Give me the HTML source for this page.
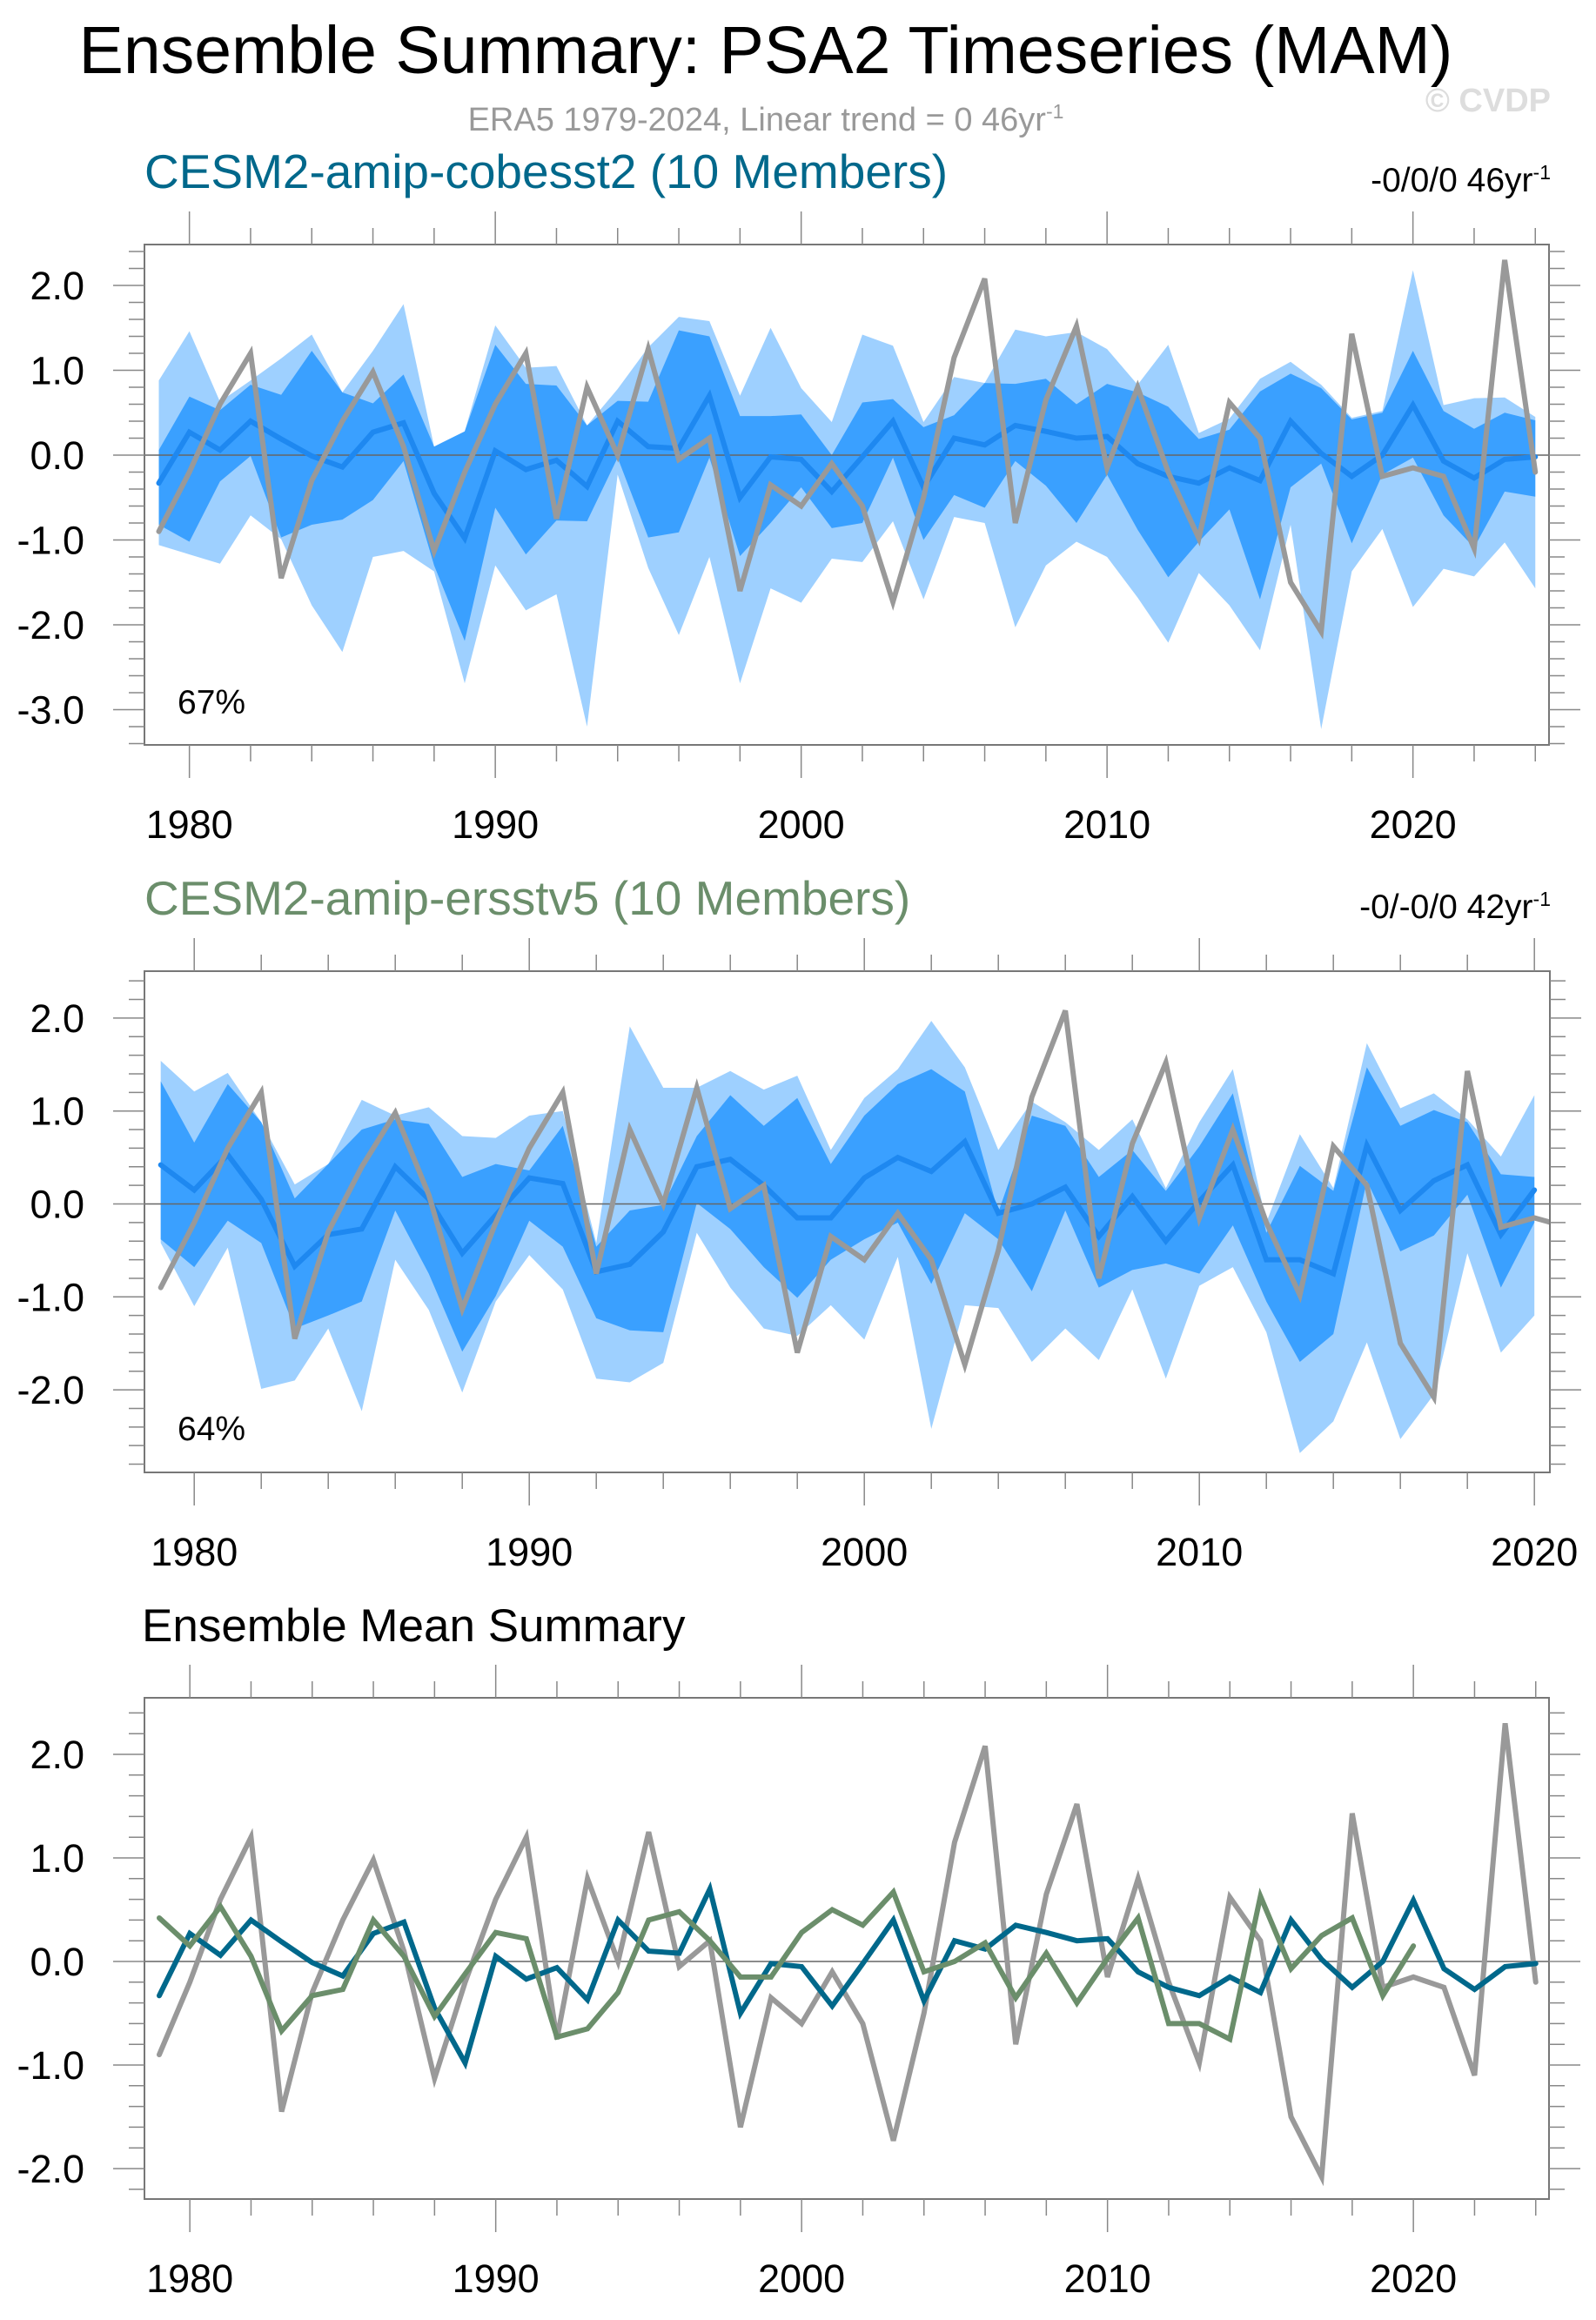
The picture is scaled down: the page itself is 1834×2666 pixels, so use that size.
<!DOCTYPE html>
<html><head><meta charset="utf-8"><style>
html,body{margin:0;padding:0;background:#fff}
svg{display:block;font-family:"Liberation Sans",sans-serif}
</style></head><body>
<svg id="chart" width="1834" height="2666" viewBox="0 0 1834 2666" xmlns="http://www.w3.org/2000/svg">
<text x="880" y="84" font-size="77" text-anchor="middle" fill="#000">Ensemble Summary: PSA2 Timeseries (MAM)</text>
<text x="880" y="150" font-size="38" text-anchor="middle" fill="#999">ERA5 1979-2024, Linear trend = 0 46yr<tspan dy="-14" font-size="23">-1</tspan></text>
<text x="1782" y="128" font-size="38" font-weight="bold" text-anchor="end" fill="#ddd">© CVDP</text>
<text x="166" y="216" font-size="55" fill="#00688B">CESM2-amip-cobesst2 (10 Members)</text>
<text x="1782" y="220" font-size="39" text-anchor="end" fill="#000">-0/0/0 46yr<tspan dy="-14" font-size="23">-1</tspan></text>
<text x="166" y="1051" font-size="55" fill="#6B8E6B">CESM2-amip-ersstv5 (10 Members)</text>
<text x="1782" y="1055" font-size="39" text-anchor="end" fill="#000">-0/-0/0 42yr<tspan dy="-14" font-size="23">-1</tspan></text>
<text x="163" y="1886" font-size="53" fill="#000">Ensemble Mean Summary</text>
</svg>
<script>
const yearsA = Array.from({length:46},(_,i)=>1979+i);
const yearsB = Array.from({length:42},(_,i)=>1979+i);
const era5 = [-0.9,-0.2,0.6,1.2,-1.45,-0.3,0.4,0.98,0.1,-1.13,-0.2,0.6,1.2,-0.75,0.8,0.0,1.25,-0.05,0.2,-1.6,-0.35,-0.6,-0.1,-0.6,-1.73,-0.5,1.15,2.08,-0.8,0.65,1.52,-0.15,0.8,-0.2,-0.98,0.62,0.2,-1.5,-2.08,1.43,-0.25,-0.15,-0.25,-1.1,2.3,-0.2];
const meanA = [-0.33,0.27,0.06,0.4,0.19,-0.01,-0.14,0.27,0.38,-0.45,-0.98,0.05,-0.17,-0.06,-0.37,0.4,0.1,0.08,0.7,-0.5,-0.02,-0.05,-0.43,-0.02,0.4,-0.38,0.2,0.12,0.35,0.28,0.2,0.22,-0.1,-0.25,-0.33,-0.15,-0.3,0.4,0.02,-0.25,0.0,0.59,-0.07,-0.27,-0.05,-0.02];
const maxA = [0.88,1.46,0.63,0.88,1.14,1.42,0.74,1.23,1.78,0.1,0.28,1.53,1.03,1.05,0.35,0.78,1.27,1.63,1.58,0.7,1.5,0.79,0.39,1.42,1.29,0.39,0.92,0.85,1.48,1.4,1.45,1.25,0.83,1.3,0.26,0.43,0.9,1.1,0.83,0.44,0.52,2.18,0.59,0.67,0.68,0.45];
const minA = [-1.06,-1.17,-1.28,-0.71,-0.99,-1.77,-2.32,-1.2,-1.13,-1.37,-2.69,-1.3,-1.83,-1.64,-3.2,-0.23,-1.33,-2.12,-1.2,-2.69,-1.57,-1.74,-1.22,-1.26,-0.78,-1.7,-0.73,-0.8,-2.03,-1.3,-1.02,-1.2,-1.68,-2.21,-1.39,-1.77,-2.3,-0.82,-3.23,-1.37,-0.87,-1.79,-1.34,-1.43,-1.03,-1.57];
const hiA = [0.06,0.69,0.53,0.83,0.71,1.23,0.74,0.61,0.95,0.1,0.28,1.3,0.84,0.82,0.35,0.64,0.63,1.47,1.4,0.46,0.46,0.48,0.0,0.62,0.66,0.33,0.47,0.85,0.84,0.9,0.6,0.84,0.74,0.57,0.19,0.3,0.75,0.96,0.79,0.42,0.5,1.23,0.52,0.31,0.5,0.41];
const loA = [-0.82,-1.02,-0.31,-0.01,-0.97,-0.82,-0.76,-0.53,-0.07,-1.3,-2.19,-0.62,-1.17,-0.77,-0.78,-0.03,-0.97,-0.91,-0.03,-1.19,-0.8,-0.38,-0.86,-0.8,-0.03,-1.0,-0.47,-0.62,-0.07,-0.36,-0.8,-0.23,-0.88,-1.44,-1.02,-0.64,-1.7,-0.38,-0.1,-1.04,-0.23,-0.03,-0.71,-1.09,-0.43,-0.49];
const meanB = [0.42,0.15,0.53,0.05,-0.67,-0.33,-0.27,0.4,0.05,-0.53,-0.12,0.28,0.22,-0.73,-0.65,-0.3,0.4,0.48,0.2,-0.15,-0.15,0.28,0.5,0.35,0.67,-0.1,0.0,0.18,-0.35,0.08,-0.4,0.03,0.42,-0.6,-0.6,-0.75,0.63,-0.07,0.25,0.42,-0.33,0.15];
const maxB = [1.54,1.21,1.41,0.88,0.21,0.43,1.12,0.95,1.04,0.73,0.71,0.95,1.0,-0.42,1.91,1.25,1.25,1.43,1.23,1.38,0.58,1.14,1.45,1.97,1.47,0.58,1.1,0.88,0.58,0.91,0.17,0.88,1.45,-0.2,0.75,0.17,1.73,1.03,1.19,0.91,0.51,1.17];
const minB = [-0.42,-1.1,-0.47,-1.99,-1.9,-1.34,-2.23,-0.6,-1.14,-2.03,-1.05,-0.55,-0.92,-1.88,-1.92,-1.71,-0.31,-0.9,-1.34,-1.42,-1.09,-1.46,-0.57,-2.42,-1.09,-1.12,-1.7,-1.34,-1.68,-0.92,-1.88,-0.88,-0.68,-1.38,-2.68,-2.34,-1.49,-2.53,-2.05,-0.53,-1.6,-1.2];
const hiB = [1.32,0.66,1.29,0.88,0.06,0.43,0.8,0.91,0.86,0.29,0.43,0.36,0.84,-0.46,-0.07,-0.01,0.73,1.17,0.84,1.14,0.43,0.95,1.29,1.45,1.21,-0.09,0.95,0.84,0.29,0.58,0.14,0.62,1.19,-0.31,0.41,0.14,1.47,0.84,1.01,0.88,0.32,0.29];
const loB = [-0.38,-0.68,-0.18,-0.42,-1.34,-1.2,-1.05,-0.07,-0.75,-1.59,-0.99,-0.18,-0.46,-1.23,-1.36,-1.38,0.01,-0.27,-0.68,-1.01,-0.6,-0.38,-0.2,-0.86,-0.1,-0.38,-0.94,-0.07,-0.9,-0.71,-0.64,-0.75,-0.23,-1.05,-1.7,-1.4,0.25,-0.51,-0.34,0.1,-0.9,-0.2];
const yTicks1 = [2,1,0,-1,-2,-3];
const yTicks2 = [2,1,0,-1,-2];
const xTicks = [1980,1990,2000,2010,2020];

const NS='http://www.w3.org/2000/svg';
const svg=document.getElementById('chart');
function mk(tag,attrs,parent){const e=document.createElementNS(NS,tag);for(const k in attrs)e.setAttribute(k,attrs[k]);(parent||svg).appendChild(e);return e;}
let clipN=0;
function panel(p){
  const g=mk('g',{});
  
  
  const X=y=>p.x0+(y-p.y0yr)*p.xs;
  const Y=v=>p.zero-v*p.unit;
  const id='clip'+(clipN++);
  const cp=mk('clipPath',{id:id},g);mk('rect',{x:p.L,y:p.T,width:p.R-p.L,height:p.B-p.T},cp);
  const pg=mk('g',{'clip-path':'url(#'+id+')'},g);
  function band(yrs,hi,lo,fill,nm){
    let d='M'+yrs.map((y,i)=>X(y)+','+Y(hi[i])).join('L');
    for(let i=yrs.length-1;i>=0;i--)d+='L'+X(yrs[i])+','+Y(lo[i]);
    const e=mk('path',{d:d+'Z',fill:fill},pg);
    
    
  }
  function line(yrs,v,col,w,nm){
    const e=mk('polyline',{points:yrs.map((y,i)=>X(y)+','+Y(v[i])).join(' '),fill:'none',stroke:col,'stroke-width':w,'stroke-linejoin':'miter','stroke-linecap':'round'},pg);
    
    
  }
  if(p.bands){
    band(p.yrs,p.bands[0],p.bands[1],'#9ED0FF','range-band');
    band(p.yrs,p.bands[2],p.bands[3],'#3AA0FF','spread-band');
  }
  mk('line',{x1:p.L,x2:p.R,y1:Y(0),y2:Y(0),stroke:'#666','stroke-width':1.5},pg);
  p.lines.forEach(l=>line(l[0],l[1],l[2],l[3],l[4]));
  mk('rect',{x:p.L,y:p.T,width:p.R-p.L,height:p.B-p.T,fill:'none',stroke:'#777','stroke-width':2},g);
  for(let v=p.ymin;v<=p.ymax+1e-6;v+=0.2){
    const yy=Y(v); if(yy<p.T||yy>p.B)continue;
    const major=Math.abs(v-Math.round(v))<1e-6;
    const len=major?36:18;
    mk('line',{x1:p.L-len,x2:p.L,y1:yy,y2:yy,stroke:'#888','stroke-width':1.5},g);
    mk('line',{x1:p.R,x2:p.R+len,y1:yy,y2:yy,stroke:'#888','stroke-width':1.5},g);
  }
  p.yTicks.forEach(v=>{
    const t=mk('text',{x:97,y:Y(v)+16,'font-size':45,'text-anchor':'end',fill:'#000'},g);
    t.textContent=v.toFixed(1);
    
    
  });
  for(let yr=1978;yr<=2025;yr+=2){
    const xx=X(yr); if(xx<p.L||xx>p.R)continue;
    const major=yr%10===0;
    const len=major?38:19;
    mk('line',{x1:xx,x2:xx,y1:p.T-len,y2:p.T,stroke:'#888','stroke-width':1.5},g);
    mk('line',{x1:xx,x2:xx,y1:p.B,y2:p.B+len,stroke:'#888','stroke-width':1.5},g);
  }
  xTicks.forEach(yr=>{
    const t=mk('text',{x:X(yr),y:p.B+107,'font-size':45,'text-anchor':'middle',fill:'#000'},g);
    t.textContent=yr;
    
    
  });
  if(p.pct){
    const t=mk('text',{x:204,y:p.pctY,'font-size':39,fill:'#000'},g);
    t.textContent=p.pct;
    
    
  }
}
panel({name:'panel-cobesst2',L:166,R:1780,T:281,B:856,x0:182.5,y0yr:1979,xs:35.15,zero:523,unit:97.5,ymin:-3.4,ymax:2.4,yTicks:yTicks1,
  yrs:yearsA,bands:[maxA,minA,hiA,loA],pct:'67%',pctY:820,
  lines:[[yearsA,meanA,'#1E88F0',6,'ensemble-mean-line'],[yearsA,era5,'#999',6,'era5-line']]});
panel({name:'panel-ersstv5',L:166,R:1781,T:1116,B:1692,x0:184.7,y0yr:1979,xs:38.5,zero:1383.5,unit:106.8,ymin:-2.8,ymax:2.6,yTicks:yTicks2,
  yrs:yearsB,bands:[maxB,minB,hiB,loB],pct:'64%',pctY:1655,
  lines:[[yearsB,meanB,'#1E88F0',6,'ensemble-mean-line'],[yearsA,era5,'#999',6,'era5-line']]});
panel({name:'panel-ensemble-mean',L:166,R:1780,T:1951,B:2527,x0:183,y0yr:1979,xs:35.15,zero:2254,unit:119,ymin:-2.2,ymax:2.4,yTicks:yTicks2,
  lines:[[yearsA,era5,'#999',6,'era5-line'],[yearsA,meanA,'#00688B',6,'cobesst2-mean-line'],[yearsB,meanB,'#6B8E6B',6,'ersstv5-mean-line']]});
</script>
</body></html>
